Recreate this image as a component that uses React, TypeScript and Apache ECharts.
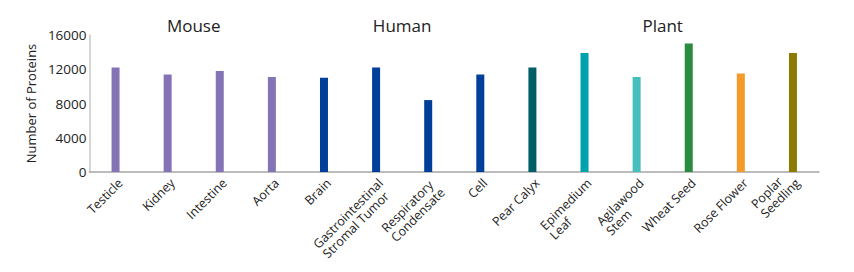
import React, { useEffect, useRef } from "react";
import * as echarts from "echarts";

const categories = [
  "Testicle",
  "Kidney",
  "Intestine",
  "Aorta",
  "Brain",
  "Gastrointestinal\nStromal Tumor",
  "Respiratory\nCondensate",
  "Cell",
  "Pear Calyx",
  "Epimedium\nLeaf",
  "Agilawood\nStem",
  "Wheat Seed",
  "Rose Flower",
  "Poplar\nSeedling",
];
const values = [12200, 11400, 11800, 11100, 11000, 12200, 8400, 11400, 12200, 13900, 11100, 15000, 11500, 13900];
const barColors = [
  "#8473b5", "#8473b5", "#8473b5", "#8473b5",
  "#003f99", "#003f99", "#003f99", "#003f99",
  "#005f66", "#00a2ab", "#45bfbe", "#2a8a40", "#f39a2b", "#8c7b00",
];
const groups = [
  { name: "Mouse", from: 0, to: 3 },
  { name: "Human", from: 4, to: 7 },
  { name: "Plant", from: 8, to: 13 },
];
const yTicks = { min: 0, max: 16000, interval: 4000 };

const FONT = "'Open Sans', 'Noto Sans', sans-serif";

// labels whose second line is the longest sit a little higher along the axis
const middleAnchored = ["Poplar\nSeedling"];

export default function App() {
  const ref = useRef<HTMLDivElement>(null);
  useEffect(() => {
    if (!ref.current) return;
    const chart = echarts.init(ref.current, undefined, { renderer: "svg" });
    chart.setOption({
      animation: false,
      textStyle: { fontFamily: FONT },
      grid: { left: 81.5, right: 27, top: 27, bottom: 100, containLabel: false },
      xAxis: {
        type: "category",
        data: categories.map((c) =>
          middleAnchored.includes(c) ? { value: c, textStyle: { verticalAlign: "middle" } } : c
        ),
        axisLine: { lineStyle: { color: "#a6a6a6", width: 1.5 } },
        axisTick: { show: false },
        axisLabel: {
          rotate: 45,
          interval: 0,
          color: "#222",
          fontSize: 12.5,
          fontFamily: FONT,
          lineHeight: 13.5,
          margin: 4,
          align: "right",
          verticalAlign: "top",
          formatter: (v: string) =>
            v
              .split("\n")
              .map((l) => `{a|${l}}`)
              .join("\n"),
          rich: {
            a: { fontSize: 12.5, lineHeight: 13.5, fontFamily: FONT, color: "#222", align: "left" },
          },
        },
      },
      yAxis: {
        type: "value",
        min: yTicks.min,
        max: yTicks.max,
        interval: yTicks.interval,
        name: "Number of Proteins",
        nameLocation: "middle",
        nameGap: 46,
        nameTextStyle: { color: "#222", fontSize: 13, fontFamily: FONT },
        axisLine: { show: true, lineStyle: { color: "#c8c8c8", width: 1.5 } },
        axisTick: { show: false },
        splitLine: { show: false },
        axisLabel: {
          color: "#222",
          fontSize: 13.5,
          fontFamily: FONT,
          margin: 3,
          formatter: (v: number) => String(v),
        },
      },
      series: [
        {
          type: "bar",
          barWidth: 8,
          data: values.map((v, i) => ({ value: v, itemStyle: { color: barColors[i] } })),
        },
      ],
    });
    const graphics = groups.map((g) => {
      const x1 = chart.convertToPixel({ xAxisIndex: 0 }, g.from) as number;
      const x2 = chart.convertToPixel({ xAxisIndex: 0 }, g.to) as number;
      return {
        type: "text",
        x: (x1 + x2) / 2,
        y: 17,
        style: {
          text: g.name,
          fill: "#222",
          fontSize: 17,
          fontFamily: FONT,
          align: "center",
          verticalAlign: "middle",
        },
      };
    });
    chart.setOption({ graphic: graphics });
    return () => chart.dispose();
  }, []);
  return <div ref={ref} style={{ width: 838, height: 264 }} />;
}
